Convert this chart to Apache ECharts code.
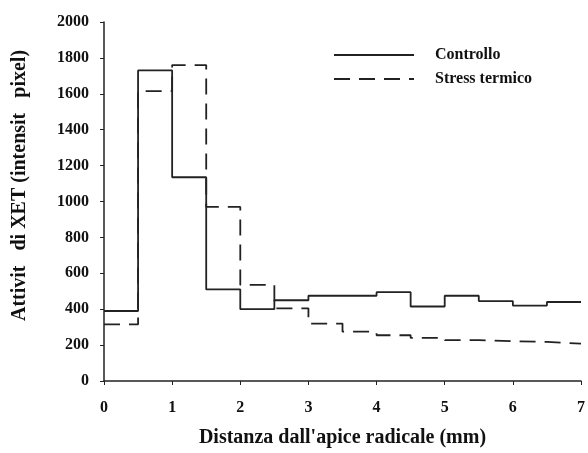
<!DOCTYPE html>
<html>
<head>
<meta charset="utf-8">
<script src="https://cdn.jsdelivr.net/npm/echarts@6/dist/echarts.min.js"></script>
<style>
  html, body { margin: 0; padding: 0; background: #fff; }
  #chart { width: 588px; height: 453px; }
</style>
</head>
<body>
<div id="chart"></div>
<script>
// bordi degli intervalli (mm)
const edges = [0, 0.5, 1, 1.5, 2, 2.5, 3, 3.5, 4, 4.5, 5, 5.5, 6, 6.5, 7]
// valori per intervallo
const controllo = [390, 1730, 1135, 510, 400, 450, 475, 475, 495, 415, 475, 445, 420, 440]
const stress = [315, 1615, 1760, 970, 535, 405, 320, 275, 255, 240, 228, 222, 218, 208]
const xTicks = [0, 1, 2, 3, 4, 5, 6, 7]
const yTicks = [0, 200, 400, 600, 800, 1000, 1200, 1400, 1600, 1800, 2000]

const font = 'Liberation Serif'

// punti per la linea a gradini: inizio di ogni intervallo + bordo finale
function stepData(vals) {
  const pts = vals.map((v, i) => [edges[i], v])
  pts.push([edges[edges.length - 1], vals[vals.length - 1]])
  return pts
}

const chart = echarts.init(document.getElementById('chart'))
chart.setOption({
  animation: false,
  textStyle: { fontFamily: font },
  grid: { left: 104, right: 7, top: 22, bottom: 72, outerBoundsMode: 'none' },
  legend: {
    orient: 'vertical',
    left: 333,
    top: 47,
    padding: 0,
    itemWidth: 80,
    itemHeight: 16,
    itemGap: 8,
    itemStyle: { opacity: 0 },
    textStyle: { fontFamily: font, fontWeight: 'bold', fontSize: 16, color: '#111', padding: [0, 0, 0, 16] },
    data: ['Controllo', 'Stress termico']
  },
  xAxis: {
    type: 'value',
    min: xTicks[0],
    max: xTicks[xTicks.length - 1],
    interval: 1,
    name: "Distanza dall'apice radicale (mm)",
    nameLocation: 'middle',
    nameGap: 47,
    nameTextStyle: { fontFamily: font, fontWeight: 'bold', fontSize: 20, color: '#111' },
    axisLine: { lineStyle: { color: '#222', width: 1.5 } },
    axisTick: { length: 4, lineStyle: { color: '#222' } },
    axisLabel: { fontFamily: font, fontWeight: 'bold', fontSize: 16, color: '#111', margin: 19 },
    splitLine: { show: false }
  },
  yAxis: {
    type: 'value',
    min: yTicks[0],
    max: yTicks[yTicks.length - 1],
    interval: 200,
    name: 'Attivit   di XET (intensit   pixel)',
    nameLocation: 'middle',
    nameGap: 74,
    nameTextStyle: { fontFamily: font, fontWeight: 'bold', fontSize: 20, color: '#111', padding: [0, 0, 0, 32] },
    axisLine: { show: true, lineStyle: { color: '#222', width: 1.5 } },
    axisTick: { show: true, length: 4, lineStyle: { color: '#222' } },
    axisLabel: { fontFamily: font, fontWeight: 'bold', fontSize: 16, color: '#111', margin: 15, formatter: v => String(v) },
    splitLine: { show: false }
  },
  series: [
    {
      name: 'Controllo',
      type: 'line',
      step: 'end',
      data: stepData(controllo),
      symbol: 'none',
      lineStyle: { color: '#222', width: 1.8 },
      itemStyle: { color: '#222' }
    },
    {
      name: 'Stress termico',
      type: 'line',
      step: 'end',
      data: stepData(stress),
      symbol: 'none',
      lineStyle: { color: '#222', width: 1.8, type: [16, 9] },
      itemStyle: { color: '#222' }
    }
  ]
})
</script>
</body>
</html>
